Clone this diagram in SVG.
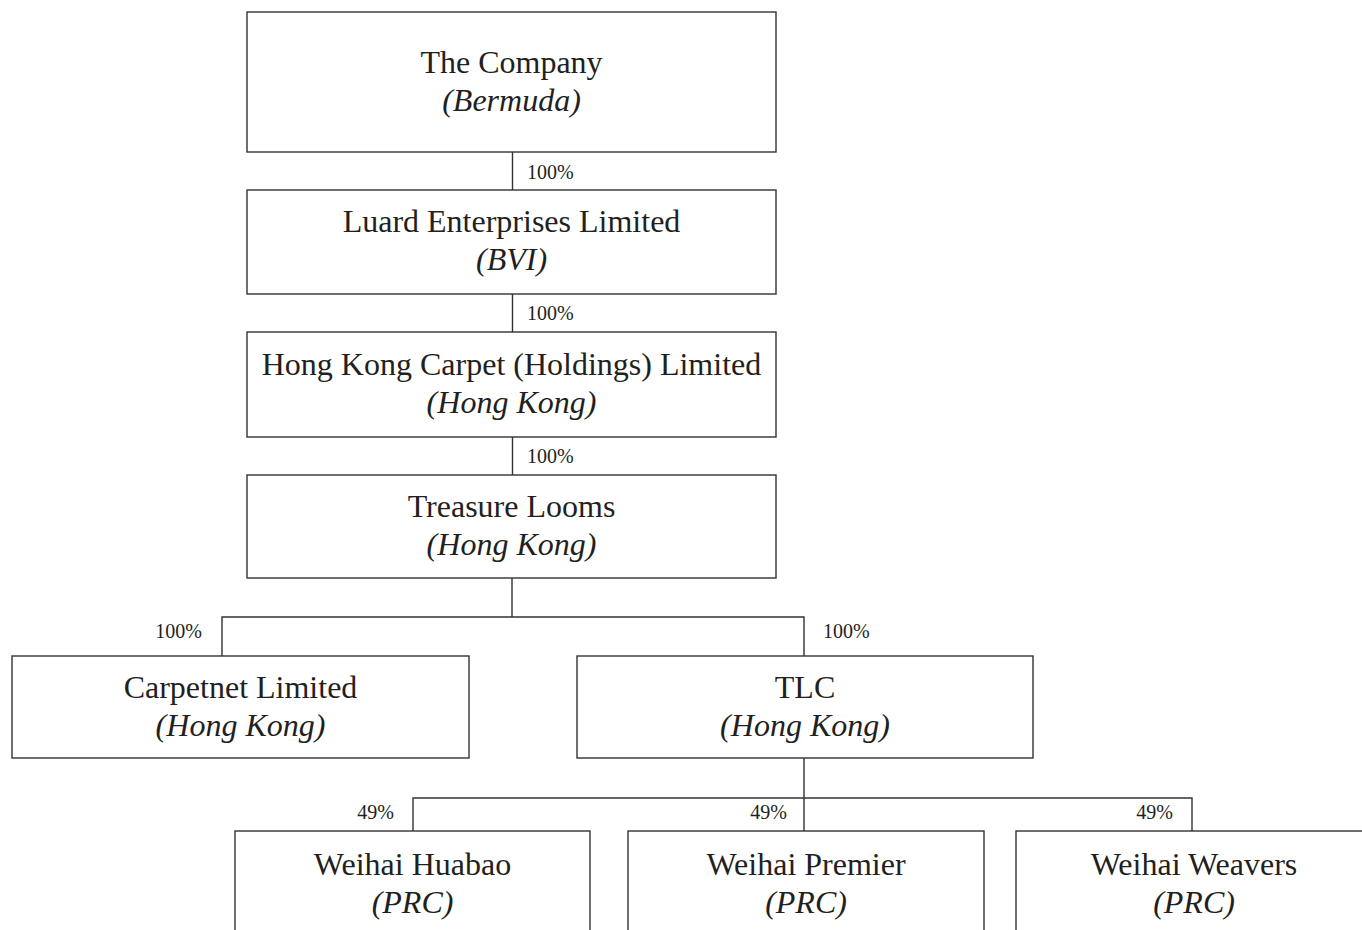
<svg xmlns="http://www.w3.org/2000/svg" width="1362" height="930" viewBox="0 0 1362 930">
<style>
.box{fill:#fff;stroke:#333;stroke-width:1.4}
.ln{fill:none;stroke:#333;stroke-width:1.4}
.t{font-family:"Liberation Serif","Times New Roman",serif;font-size:32px;fill:#231f20;text-anchor:middle}
.i{font-style:italic}
.p{font-family:"Liberation Serif","Times New Roman",serif;font-size:20px;fill:#231f20}
.e{text-anchor:end}
</style>
<rect width="1362" height="930" fill="#fff"/>
<g id="connectors">
<path class="ln" d="M512.5 152V190M512.5 294V332M512.5 437V475"/>
<path class="ln" d="M512 578V617M222 656V617H804V656"/>
<path class="ln" d="M804 758V798M413 831V798H1192V831M804 798V831"/>
<text class="p" x="527" y="179">100%</text>
<text class="p" x="527" y="320">100%</text>
<text class="p" x="527" y="463">100%</text>
<text class="p e" x="202" y="638">100%</text>
<text class="p" x="823" y="638">100%</text>
<text class="p e" x="394" y="819">49%</text>
<text class="p e" x="787" y="819">49%</text>
<text class="p e" x="1173" y="819">49%</text>
</g>
<g id="company">
<rect class="box" x="247" y="12" width="529" height="140"/>
<text class="t" x="511.5" y="73">The Company</text>
<text class="t i" x="511.5" y="111">(Bermuda)</text>
</g>
<g id="luard">
<rect class="box" x="247" y="190" width="529" height="104"/>
<text class="t" x="511.5" y="232">Luard Enterprises Limited</text>
<text class="t i" x="511.5" y="270">(BVI)</text>
</g>
<g id="hkcarpet">
<rect class="box" x="247" y="332" width="529" height="105"/>
<text class="t" x="511.5" y="375">Hong Kong Carpet (Holdings) Limited</text>
<text class="t i" x="511.5" y="413">(Hong Kong)</text>
</g>
<g id="treasure">
<rect class="box" x="247" y="475" width="529" height="103"/>
<text class="t" x="511.5" y="517">Treasure Looms</text>
<text class="t i" x="511.5" y="555">(Hong Kong)</text>
</g>
<g id="carpetnet">
<rect class="box" x="12" y="656" width="457" height="102"/>
<text class="t" x="240.5" y="698">Carpetnet Limited</text>
<text class="t i" x="240.5" y="736">(Hong Kong)</text>
</g>
<g id="tlc">
<rect class="box" x="577" y="656" width="456" height="102"/>
<text class="t" x="805" y="698">TLC</text>
<text class="t i" x="805" y="736">(Hong Kong)</text>
</g>
<g id="huabao">
<rect class="box" x="235" y="831" width="355" height="120"/>
<text class="t" x="412.5" y="875">Weihai Huabao</text>
<text class="t i" x="412.5" y="913">(PRC)</text>
</g>
<g id="premier">
<rect class="box" x="628" y="831" width="356" height="120"/>
<text class="t" x="806" y="875">Weihai Premier</text>
<text class="t i" x="806" y="913">(PRC)</text>
</g>
<g id="weavers">
<rect class="box" x="1016" y="831" width="356" height="120"/>
<text class="t" x="1194" y="875">Weihai Weavers</text>
<text class="t i" x="1194" y="913">(PRC)</text>
</g>
</svg>
